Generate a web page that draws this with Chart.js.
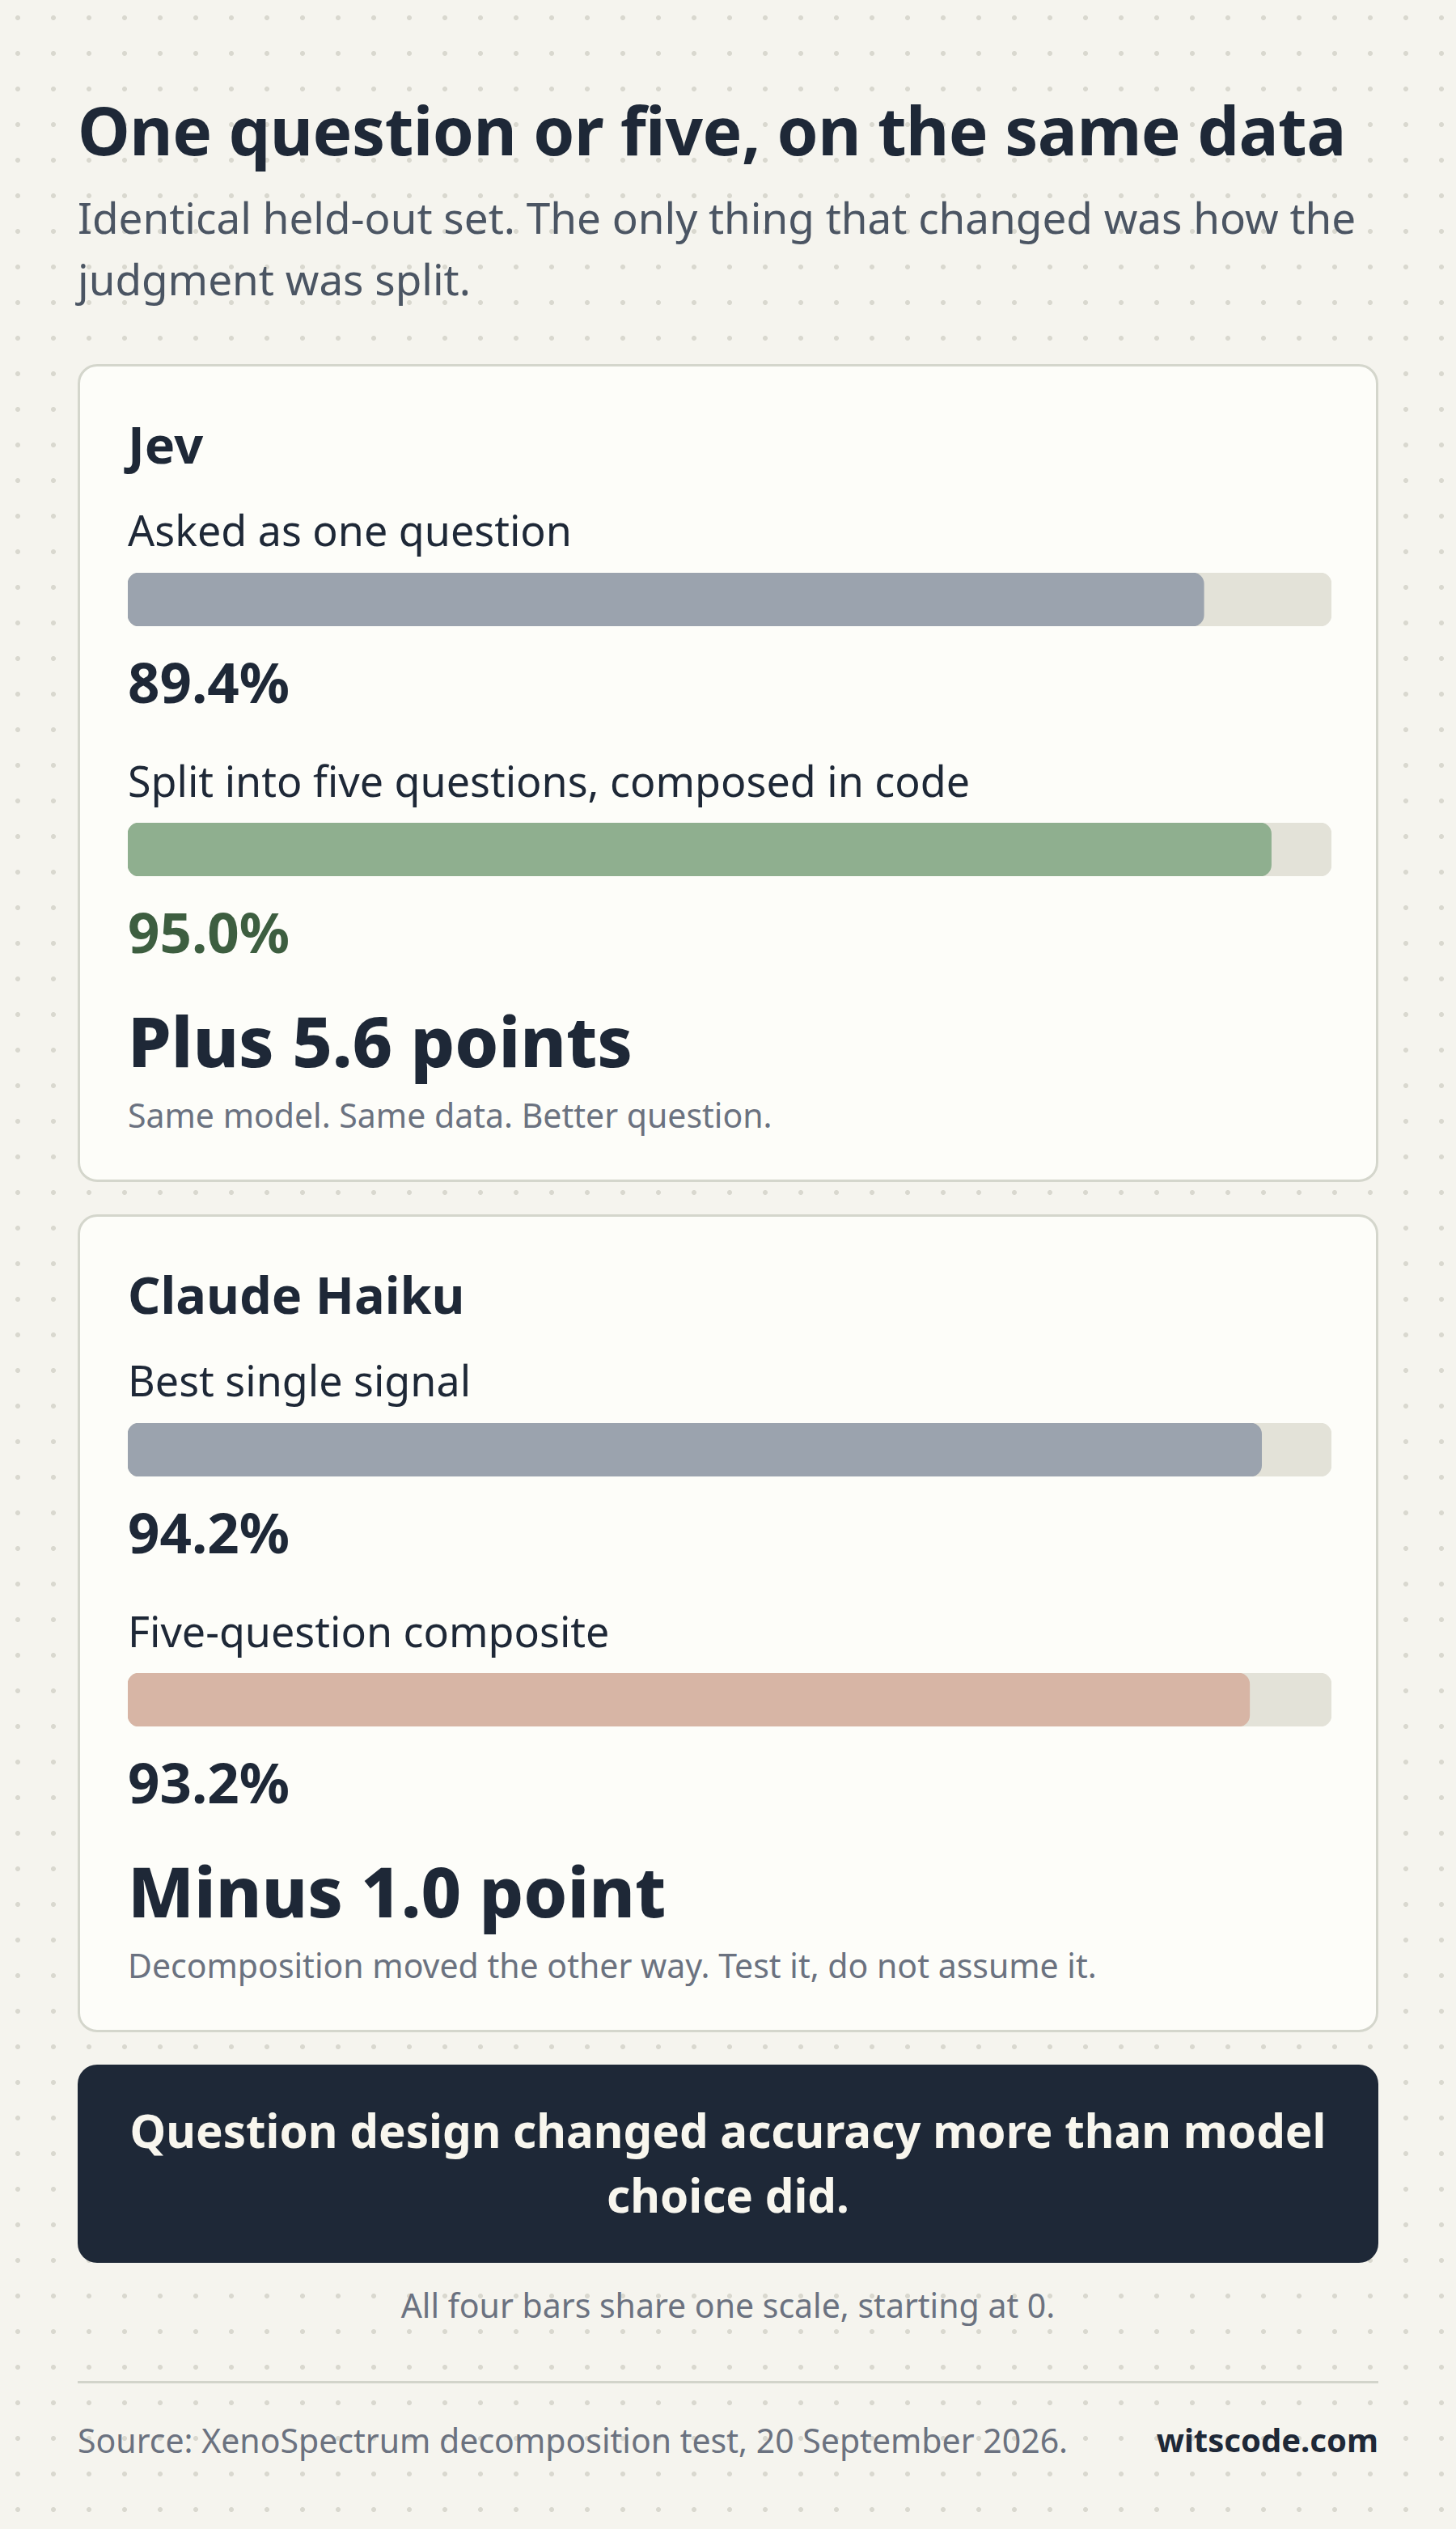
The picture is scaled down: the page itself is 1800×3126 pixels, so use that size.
<!DOCTYPE html>
<html>
<head>
<meta charset="utf-8">
<title>One question or five</title>
<script src="https://cdn.jsdelivr.net/npm/chart.js@4.4.1/dist/chart.umd.min.js"></script>
<style>
  html, body { margin: 0; padding: 0; }
  body {
    width: 1800px;
    height: 3126px;
    position: relative;
    overflow: hidden;
    font-family: "Noto Sans", "Open Sans", sans-serif;
    color: #1e2837;
    background-color: #f5f4ee;
    background-image: radial-gradient(circle, #d9d8cf 0, #d9d8cf 2.6px, transparent 3.4px);
    background-size: 44px 44px;
  }
  .abs { position: absolute; white-space: nowrap; }
  h1 {
    position: absolute; left: 96px; top: 110px; margin: 0;
    font-size: 82px; line-height: 100px; font-weight: 700; letter-spacing: -0.5px;
    white-space: nowrap;
  }
  .sub {
    position: absolute; left: 96px; top: 231px; width: 1640px; margin: 0;
    font-size: 53px; line-height: 76px; color: #4b5563;
  }
  .card {
    position: absolute; left: 96px; width: 1608px; height: 1011px; box-sizing: border-box;
    background: #fdfdf9; border: 3px solid #d4d6cc; border-radius: 24px;
  }
  .card .name { left: 59px; font-size: 63px; line-height: 80px; font-weight: 700; }
  .card .lbl { left: 59px; font-size: 52px; line-height: 70px; }
  .card .val { left: 59px; font-size: 69px; line-height: 80px; font-weight: 700; }
  .card .delta { left: 59px; font-size: 86px; line-height: 110px; font-weight: 800; }
  .card .note { left: 59px; font-size: 41px; line-height: 56px; color: #6b7280; }
  .card .bar { position: absolute; left: 59px; width: 1488px; height: 66px; }
  .banner {
    position: absolute; left: 96px; top: 2552px; width: 1608px; height: 245px;
    background: #1e2837; border-radius: 24px; color: #f8f6ee;
    font-size: 56.5px; line-height: 80px; font-weight: 700; text-align: center;
    box-sizing: border-box; padding: 42px 56px 0;
  }
  .scale { position: absolute; left: 0; width: 1800px; top: 2821px; text-align: center;
    font-size: 41px; line-height: 56px; color: #6b7280; }
  .rule { position: absolute; left: 96px; width: 1608px; top: 2943px; height: 3px; background: #d2d4cb; }
  .foot { position: absolute; top: 2988px; font-size: 41px; line-height: 56px; }
</style>
</head>
<body>
<h1>One question or five, on the same data</h1>
<p class="sub">Identical held-out set. The only thing that changed was how the<br>judgment was split.</p>
<div id="cards"></div>
<div class="banner">Question design changed accuracy more than model choice did.</div>
<div class="scale">All four bars share one scale, starting at 0.</div>
<div class="rule"></div>
<div class="foot" style="left:96px;color:#6b7280">Source: XenoSpectrum decomposition test, 20 September 2026.</div>
<div class="foot" style="right:96px;font-weight:700;color:#1e2837;font-size:40px">witscode.com</div>

<script>
// shared scale for all four bars
const SCALE_MIN = 0;
const SCALE_MAX = 100;

const panelNames = ['Jev', 'Claude Haiku'];
const barLabels = [
  ['Asked as one question', 'Split into five questions, composed in code'],
  ['Best single signal', 'Five-question composite']
];
const barValues = [
  [89.4, 95.0],
  [94.2, 93.2]
];
const panelNotes = [
  'Same model. Same data. Better question.',
  'Decomposition moved the other way. Test it, do not assume it.'
];

// colours per panel: [first bar, second bar], value text colours
const barColors = [['#9ba3ae', '#8faf8f'], ['#9ba3ae', '#d7b5a5']];
const valueColors = [['#1e2837', '#3d5e40'], ['#1e2837', '#1e2837']];
const TRACK = '#e3e2d8';

const cardTops = [450, 1501];

function deltaText(a, b) {
  const d = b - a;
  const n = Math.abs(d).toFixed(1);
  return (d >= 0 ? 'Plus ' : 'Minus ') + n + (n === '1.0' ? ' point' : ' points');
}

function makeBar(canvas, label, value, color) {
  new Chart(canvas, {
    type: 'bar',
    data: {
      labels: [label],
      datasets: [
        {
          data: [value],
          backgroundColor: color,
          borderRadius: 14,
          borderSkipped: false,
          grouped: false,
          barPercentage: 1,
          categoryPercentage: 1,
          order: 1
        },
        {
          data: [SCALE_MAX],
          backgroundColor: TRACK,
          borderRadius: 14,
          borderSkipped: false,
          grouped: false,
          barPercentage: 1,
          categoryPercentage: 1,
          order: 2
        }
      ]
    },
    options: {
      indexAxis: 'y',
      responsive: true,
      maintainAspectRatio: false,
      animation: false,
      devicePixelRatio: 1,
      layout: { padding: 0 },
      plugins: {
        legend: { display: false },
        tooltip: { enabled: false }
      },
      scales: {
        x: { min: SCALE_MIN, max: SCALE_MAX, display: false },
        y: { display: false }
      }
    }
  });
}

const holder = document.getElementById('cards');
panelNames.forEach(function (name, p) {
  const card = document.createElement('div');
  card.className = 'card';
  card.style.top = cardTops[p] + 'px';

  // offsets inside the card, measured from the inner (padding) box
  const rows = [
    ['name', 56, name],
    ['lbl', 167, barLabels[p][0]],
    ['val', 349, barValues[p][0].toFixed(1) + '%'],
    ['lbl', 477, barLabels[p][1]],
    ['val', 658, barValues[p][1].toFixed(1) + '%'],
    ['delta', 778, deltaText(barValues[p][0], barValues[p][1])],
    ['note', 897, panelNotes[p]]
  ];
  rows.forEach(function (r, i) {
    const el = document.createElement('div');
    el.className = 'abs ' + r[0];
    el.style.top = r[1] + 'px';
    el.textContent = r[2];
    if (i === 2) el.style.color = valueColors[p][0];
    if (i === 4) el.style.color = valueColors[p][1];
    card.appendChild(el);
  });

  [255, 564].forEach(function (top, j) {
    const wrap = document.createElement('div');
    wrap.className = 'bar';
    wrap.style.top = top + 'px';
    const cv = document.createElement('canvas');
    wrap.appendChild(cv);
    card.appendChild(wrap);
    makeBar(cv, barLabels[p][j], barValues[p][j], barColors[p][j]);
  });

  holder.appendChild(card);
});
</script>
</body>
</html>
